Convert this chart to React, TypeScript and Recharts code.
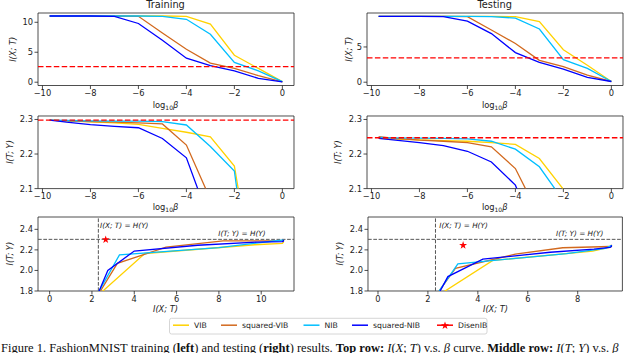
import React from 'react';
import { ComposedChart, Line, XAxis, YAxis, ReferenceLine, ReferenceArea, Scatter, ZAxis } from 'recharts';

// ---------- data ----------
const logBeta = [-9.7, -9, -8, -7, -6, -5, -4, -3, -2, -1, 0];

// Training I(X;T)
const trainIXT_VIB = [11.05, 11.05, 11.05, 11.05, 11.05, 11.05, 11.0, 9.7, 4.5, 2.3, 0.1];
const trainIXT_sqVIB = [11.05, 11.05, 11.05, 11.05, 11.0, 8.2, 5.5, 3.2, 2.3, 1.1, 0.05];
const trainIXT_NIB = [11.05, 11.05, 11.05, 11.05, 11.05, 11.0, 10.5, 8.0, 3.3, 1.9, 0.1];
const trainIXT_sqNIB = [11.05, 11.05, 11.05, 11.0, 9.8, 7.0, 4.0, 2.75, 1.9, 0.65, 0.05];

// Training I(T;Y)
const trainITY_VIB = [2.298, 2.296, 2.293, 2.29, 2.286, 2.274, 2.263, 2.25, 2.165, 1.76, 1.2];
const trainITY_sqVIB = [2.298, 2.296, 2.294, 2.292, 2.29, 2.287, 2.226, 2.069, 1.766, 1.3, 0.6];
const trainITY_NIB = [2.298, 2.297, 2.296, 2.295, 2.295, 2.294, 2.284, 2.222, 2.151, 1.64, 1.0];
const trainITY_sqNIB = [2.298, 2.292, 2.285, 2.28, 2.276, 2.245, 2.189, 2.0, 1.585, 1.1, 0.5];

// Testing I(X;T)
const testIXT_VIB = [9.35, 9.35, 9.35, 9.35, 9.35, 9.35, 9.3, 8.6, 4.6, 2.4, 0.1];
const testIXT_sqVIB = [9.35, 9.35, 9.35, 9.35, 9.3, 7.4, 5.5, 3.1, 2.2, 1.0, 0.1];
const testIXT_NIB = [9.35, 9.35, 9.35, 9.35, 9.35, 9.3, 9.1, 7.55, 3.2, 1.95, 0.1];
const testIXT_sqNIB = [9.35, 9.35, 9.35, 9.3, 8.65, 6.9, 4.2, 2.8, 1.87, 0.7, 0.1];

// Testing I(T;Y)
const testITY_VIB = [2.245, 2.243, 2.241, 2.239, 2.237, 2.233, 2.228, 2.187, 2.098, 1.755, 1.2];
const testITY_sqVIB = [2.25, 2.245, 2.24, 2.237, 2.233, 2.221, 2.158, 2.02, 1.716, 1.3, 0.6];
const testITY_NIB = [2.248, 2.247, 2.246, 2.245, 2.244, 2.237, 2.214, 2.163, 2.065, 1.624, 1.0];
const testITY_sqNIB = [2.245, 2.24, 2.233, 2.224, 2.208, 2.177, 2.11, 1.94, 1.52, 1.1, 0.5];

const trainRedIXT = 2.6;
const testRedIXT = 3.45;
const trainRedITY = 2.298;
const testRedITY = 2.247;
const HY = 2.3026;
const trainStar = [{ x: 2.65, y: 2.3 }];
const testStar = [{ x: 3.41, y: 2.245 }];

const betaTicks = [-10, -8, -6, -4, -2, 0];
const ixtTicksTrain = [0, 5, 10];
const ixtTicksTest = [0, 5];
const ityTicks = [2.1, 2.2, 2.3];
const bottomYTicks = [1.8, 2.0, 2.2, 2.4];
const bottomXTicksTrain = [0, 2, 4, 6, 8, 10];
const bottomXTicksTest = [0, 2, 4, 6, 8];

const seriesNames = ['VIB', 'squared-VIB', 'NIB', 'squared-NIB'];
const COLORS = ['#FFD200', '#D2691E', '#00BFFF', '#0000FF'];

// ---------- helpers ----------
const FONT = 'DejaVu Sans';
const TICK_FS = 8.3;

const fmtInt = (v: number) => (v < 0 ? '\u2212' + Math.abs(v) : String(v));
const fmt1 = (v: number) => v.toFixed(1);

const pairs = (xs: number[], ys: number[]) => xs.map((x, i) => ({ x, y: ys[i] }));

type PanelProps = {
  fx: number; fy: number; fw: number; fh: number;
  xDomain: [number, number]; yDomain: [number, number];
  xTicks: number[]; yTicks: number[];
  xFmt: (v: number) => string; yFmt: (v: number) => string;
  lines: { x: number; y: number }[][];
  redY?: number; grayX?: number; grayY?: number;
  star?: { x: number; y: number }[];
};

const YW = 34;
const XH = 18;
const MT = 4;
const MR = 4;

function Panel(p: PanelProps) {
  const width = YW + p.fw + MR;
  const height = MT + p.fh + XH;
  return (
    <div style={{ position: 'absolute', left: p.fx - YW, top: p.fy - MT, width, height }}>
      <ComposedChart width={width} height={height} margin={{ top: MT, right: MR, bottom: 0, left: 0 }}>
        <XAxis
          type="number"
          dataKey="x"
          domain={p.xDomain}
          allowDataOverflow
          ticks={p.xTicks}
          interval={0}
          tickFormatter={p.xFmt}
          axisLine={false}
          tickLine={{ stroke: '#222', strokeWidth: 0.8 }}
          tickSize={3.5}
          tickMargin={1.5}
          height={XH}
          tick={{ fontSize: TICK_FS, fill: '#222', fontFamily: FONT }}
        />
        <YAxis
          type="number"
          domain={p.yDomain}
          allowDataOverflow
          ticks={p.yTicks}
          interval={0}
          tickFormatter={p.yFmt}
          axisLine={false}
          tickLine={{ stroke: '#222', strokeWidth: 0.8 }}
          tickSize={3.5}
          tickMargin={1.5}
          width={YW}
          tick={{ fontSize: TICK_FS, fill: '#222', fontFamily: FONT }}
        />
        <ZAxis range={[20, 20]} />
        {p.grayX !== undefined && (
          <ReferenceLine x={p.grayX} stroke="#555" strokeWidth={1} strokeDasharray="3.7 1.6" />
        )}
        {p.grayY !== undefined && (
          <ReferenceLine y={p.grayY} stroke="#555" strokeWidth={1} strokeDasharray="3.7 1.6" />
        )}
        {p.lines.map((d, i) => (
          <Line
            key={i}
            data={d}
            dataKey="y"
            type="linear"
            stroke={COLORS[i]}
            strokeWidth={1.3}
            dot={false}
            activeDot={false}
            isAnimationActive={false}
          />
        ))}
        {p.redY !== undefined && (
          <ReferenceLine y={p.redY} stroke="#FF0000" strokeWidth={1.4} strokeDasharray="5.5 2.4" />
        )}
        {p.star && (
          <Scatter data={p.star} dataKey="y" fill="#FF0000" shape="star" isAnimationActive={false} />
        )}
        <ReferenceArea
          x1={p.xDomain[0]}
          x2={p.xDomain[1]}
          y1={p.yDomain[0]}
          y2={p.yDomain[1]}
          fill="none"
          stroke="#222"
          strokeWidth={0.8}
          ifOverflow="visible"
        />
      </ComposedChart>
    </div>
  );
}

function LogBeta({ cx, y }: { cx: number; y: number }) {
  return (
    <text x={cx} y={y} textAnchor="middle" fontFamily={FONT} fontSize={8.3} fill="#222">
      <tspan>log</tspan>
      <tspan dy={2} fontSize={6}>10</tspan>
      <tspan dy={-2} fontStyle="italic">β</tspan>
    </text>
  );
}

function YLab({ x, y, text }: { x: number; y: number; text: string }) {
  return (
    <text
      x={x}
      y={y}
      transform={`rotate(-90 ${x} ${y})`}
      textAnchor="middle"
      dominantBaseline="central"
      fontFamily={FONT}
      fontSize={8.3}
      fontStyle="italic"
      fill="#222"
    >
      {text}
    </text>
  );
}

function XLab({ cx, y, text }: { cx: number; y: number; text: string }) {
  return (
    <text x={cx} y={y} textAnchor="middle" fontFamily={FONT} fontSize={8.3} fontStyle="italic" fill="#222">
      {text}
    </text>
  );
}

function Ann({ x, y, text }: { x: number; y: number; text: string }) {
  return (
    <text x={x} y={y} fontFamily={FONT} fontSize={7.3} fontStyle="italic" fill="#222">
      {text}
    </text>
  );
}

// frame geometry
const L1 = 37.5;
const L2 = 366.7;
const FW = 256;
const TOPY = 13;
const MIDY = 115.7;
const BOTY = 216.7;

const legendItems = [
  { name: seriesNames[0], color: COLORS[0], x: 173 },
  { name: seriesNames[1], color: COLORS[1], x: 221 },
  { name: seriesNames[2], color: COLORS[2], x: 303.5 },
  { name: seriesNames[3], color: COLORS[3], x: 352 },
];

export default function App() {
  const trIXT = [trainIXT_VIB, trainIXT_sqVIB, trainIXT_NIB, trainIXT_sqNIB];
  const trITY = [trainITY_VIB, trainITY_sqVIB, trainITY_NIB, trainITY_sqNIB];
  const teIXT = [testIXT_VIB, testIXT_sqVIB, testIXT_NIB, testIXT_sqNIB];
  const teITY = [testITY_VIB, testITY_sqVIB, testITY_NIB, testITY_sqNIB];

  return (
    <div style={{ position: 'absolute', left: 0, top: 0, width: 640, height: 353, overflow: 'hidden', background: '#fff' }}>
      {/* top row */}
      <Panel
        fx={L1} fy={TOPY} fw={FW} fh={72.5}
        xDomain={[-10.185, 0.485]} yDomain={[-0.55, 11.55]}
        xTicks={betaTicks} yTicks={ixtTicksTrain} xFmt={fmtInt} yFmt={fmtInt}
        lines={trIXT.map((a) => pairs(logBeta, a))}
        redY={trainRedIXT}
      />
      <Panel
        fx={L2} fy={TOPY} fw={FW} fh={72.5}
        xDomain={[-10.185, 0.485]} yDomain={[-0.4675, 9.8175]}
        xTicks={betaTicks} yTicks={ixtTicksTest} xFmt={fmtInt} yFmt={fmtInt}
        lines={teIXT.map((a) => pairs(logBeta, a))}
        redY={testRedIXT}
      />
      {/* middle row */}
      <Panel
        fx={L1} fy={MIDY} fw={FW} fh={72.6}
        xDomain={[-10.185, 0.485]} yDomain={[2.1, 2.31]}
        xTicks={betaTicks} yTicks={ityTicks} xFmt={fmtInt} yFmt={fmt1}
        lines={trITY.map((a) => pairs(logBeta, a))}
        redY={trainRedITY}
      />
      <Panel
        fx={L2} fy={MIDY} fw={FW} fh={72.6}
        xDomain={[-10.185, 0.485]} yDomain={[2.1, 2.31]}
        xTicks={betaTicks} yTicks={ityTicks} xFmt={fmtInt} yFmt={fmt1}
        lines={teITY.map((a) => pairs(logBeta, a))}
        redY={testRedITY}
      />
      {/* bottom row */}
      <Panel
        fx={L1} fy={BOTY} fw={FW} fh={74}
        xDomain={[-0.55, 11.55]} yDomain={[1.8, 2.52]}
        xTicks={bottomXTicksTrain} yTicks={bottomYTicks} xFmt={fmtInt} yFmt={fmt1}
        lines={trIXT.map((a, i) => pairs(a, trITY[i]))}
        grayX={HY} grayY={HY} star={trainStar}
      />
      <Panel
        fx={368.3} fy={BOTY} fw={254.4} fh={74}
        xDomain={[-0.4, 9.79]} yDomain={[1.8, 2.52]}
        xTicks={bottomXTicksTest} yTicks={bottomYTicks} xFmt={fmtInt} yFmt={fmt1}
        lines={teIXT.map((a, i) => pairs(a, teITY[i]))}
        grayX={HY} grayY={HY} star={testStar}
      />

      <svg width={640} height={353} style={{ position: 'absolute', left: 0, top: 0, pointerEvents: 'none' }}>
        {/* titles */}
        <text x={L1 + FW / 2} y={8} textAnchor="middle" fontFamily={FONT} fontSize={9.8} fill="#222">Training</text>
        <text x={L2 + FW / 2} y={8} textAnchor="middle" fontFamily={FONT} fontSize={9.8} fill="#222">Testing</text>

        {/* x labels */}
        <LogBeta cx={L1 + FW / 2} y={107.5} />
        <LogBeta cx={L2 + FW / 2} y={107.5} />
        <LogBeta cx={L1 + FW / 2} y={209.5} />
        <LogBeta cx={L2 + FW / 2} y={209.5} />
        <XLab cx={L1 + FW / 2} y={312} text="I(X; T)" />
        <XLab cx={368.3 + 254.4 / 2} y={312} text="I(X; T)" />

        {/* y labels */}
        <YLab x={13.3} y={49.3} text="I(X; T)" />
        <YLab x={349} y={49.3} text="I(X; T)" />
        <YLab x={10} y={152} text="I(T; Y)" />
        <YLab x={338} y={152} text="I(T; Y)" />
        <YLab x={10.5} y={253.7} text="I(T; Y)" />
        <YLab x={340.5} y={253.7} text="I(T; Y)" />

        {/* annotations */}
        <Ann x={100} y={228} text="I(X; T) = H(Y)" />
        <Ann x={218.3} y={236} text="I(T; Y) = H(Y)" />
        <Ann x={439.3} y={228} text="I(X; T) = H(Y)" />
        <Ann x={556} y={236} text="I(T; Y) = H(Y)" />

        {/* legend */}
        <rect x={169.5} y={318.3} width={317.5} height={15.7} rx={2} fill="#fff" stroke="#ccc" strokeWidth={0.8} />
        {legendItems.map((it) => (
          <g key={it.name}>
            <line x1={it.x} x2={it.x + 16} y1={325.2} y2={325.2} stroke={it.color} strokeWidth={1.5} />
            <text x={it.x + 21} y={327.9} fontFamily={FONT} fontSize={7.7} fill="#222">{it.name}</text>
          </g>
        ))}
        <line x1={437} x2={453} y1={325.2} y2={325.2} stroke="#FF0000" strokeWidth={1.5} />
        <polygon
          points={Array.from({ length: 10 }, (_, k) => {
            const r = k % 2 === 0 ? 4.2 : 1.7;
            const a = -Math.PI / 2 + (k * Math.PI) / 5;
            return `${445 + r * Math.cos(a)},${325.6 + r * Math.sin(a)}`;
          }).join(' ')}
          fill="#FF0000"
        />
        <text x={458} y={327.9} fontFamily={FONT} fontSize={7.7} fill="#222">DisenIB</text>

        {/* caption */}
        <text x={1} y={351.5} fontFamily="Liberation Serif" fontSize={12.5} fill="#111">
          <tspan>Figure 1.  FashionMNIST training (</tspan>
          <tspan fontWeight="bold">left</tspan>
          <tspan>) and testing (</tspan>
          <tspan fontWeight="bold">right</tspan>
          <tspan>) results.  </tspan>
          <tspan fontWeight="bold">Top row:</tspan>
          <tspan> </tspan>
          <tspan fontStyle="italic">I</tspan>
          <tspan>(</tspan>
          <tspan fontStyle="italic">X</tspan>
          <tspan>; </tspan>
          <tspan fontStyle="italic">T</tspan>
          <tspan>) v.s. </tspan>
          <tspan fontStyle="italic">β</tspan>
          <tspan> curve.  </tspan>
          <tspan fontWeight="bold">Middle row:</tspan>
          <tspan> </tspan>
          <tspan fontStyle="italic">I</tspan>
          <tspan>(</tspan>
          <tspan fontStyle="italic">T</tspan>
          <tspan>; </tspan>
          <tspan fontStyle="italic">Y</tspan>
          <tspan>) v.s. </tspan>
          <tspan fontStyle="italic">β</tspan>
        </text>
      </svg>
    </div>
  );
}
